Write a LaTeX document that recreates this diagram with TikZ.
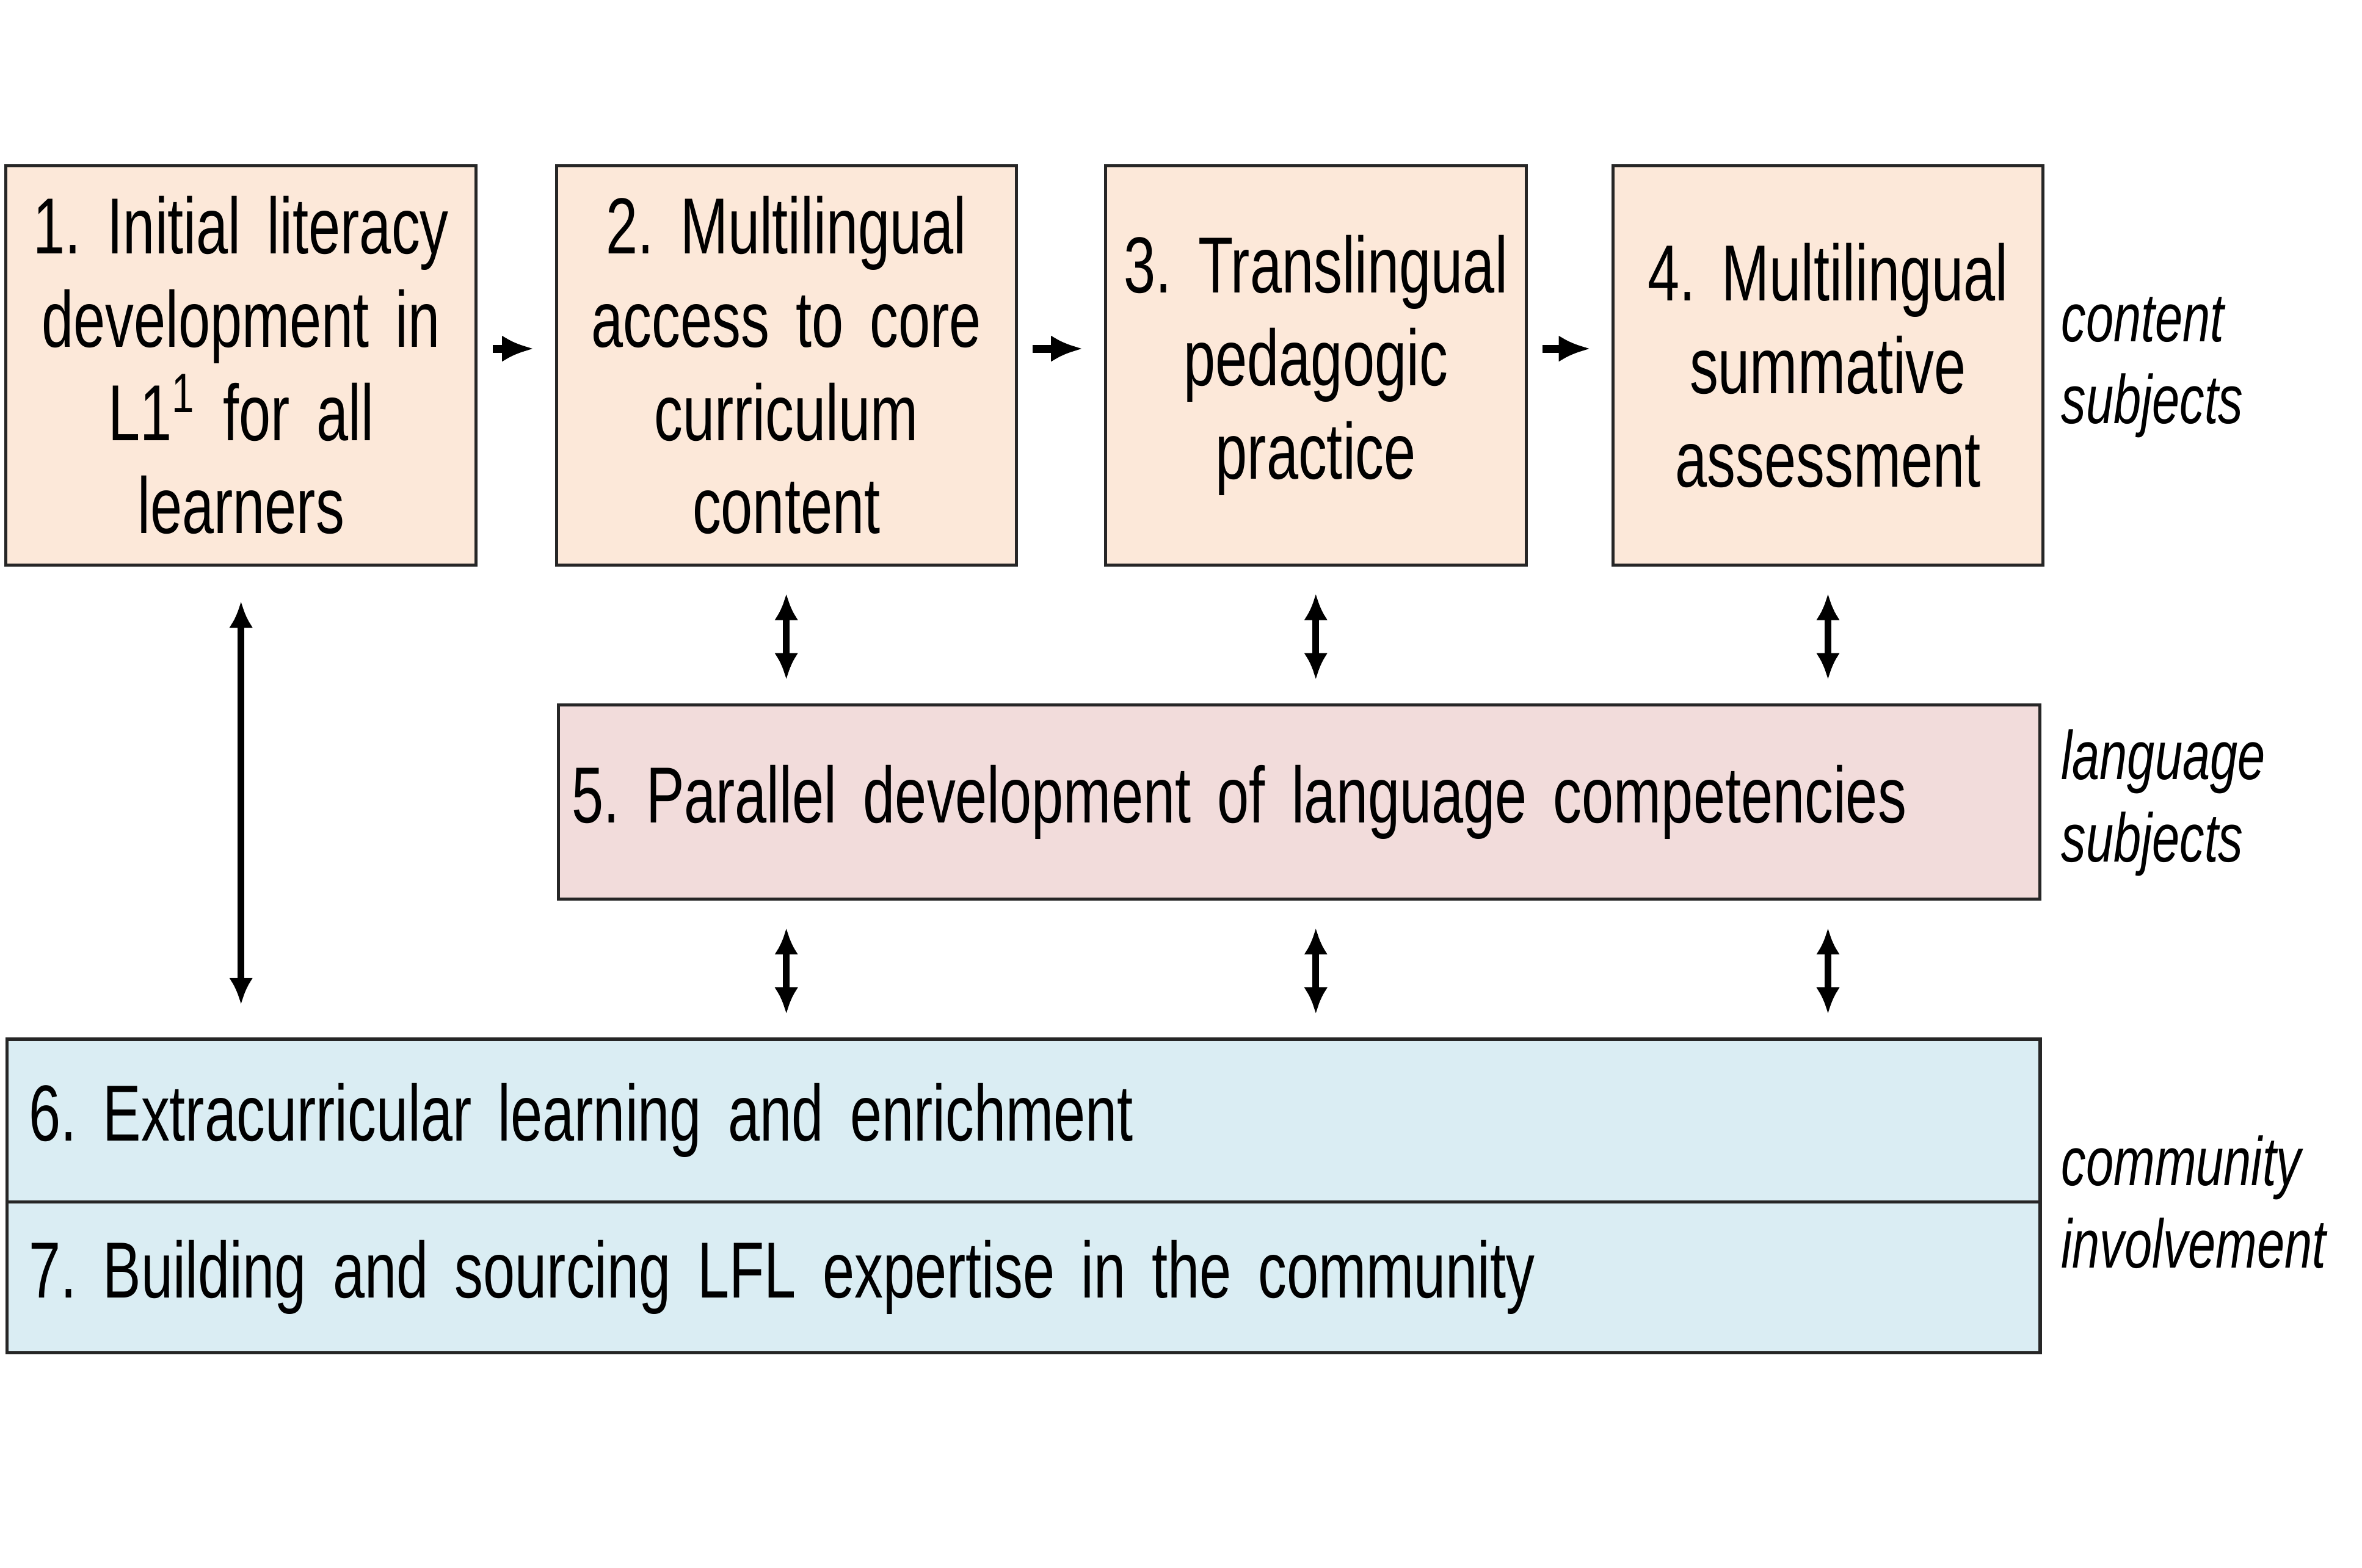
\documentclass[tikz,border=0pt]{standalone}
\usepackage{fontspec}
\setmainfont{Liberation Sans}[FakeStretch=0.72]
\usepackage{tikz}
\usetikzlibrary{positioning, arrows.meta}
\definecolor{peach}{HTML}{FCE8D9}
\definecolor{rose}{HTML}{F2DCDB}
\definecolor{sky}{HTML}{DAEDF3}
\tikzset{
  box/.style={draw=black!85, line width=0.6pt, inner sep=1pt, align=center,
    font=\fontsize{15}{17.6}\selectfont},
  side/.style={anchor=west, align=left, font=\fontsize{13}{15.5}\selectfont\itshape},
  arr/.style={-{Latex[length=6pt,width=5pt]}, line width=1.5pt},
  darr/.style={{Latex[length=5pt,width=4.5pt]}-{Latex[length=5pt,width=4.5pt]}, line width=1.3pt}
}
\begin{document}
\frenchspacing
\begin{tikzpicture}[x=0.01cm, y=0.01cm]
        \useasboundingbox (0,0) rectangle (1568,1041);
        \node[box, fill=peach, minimum width=3.1cm, minimum height=2.65cm, text width=3.05cm] (b1) at (160,798.5) {1. Initial literacy\\development in\\L1\textsuperscript{1} for all\\learners};
        \node[box, fill=peach, minimum width=3.02cm, minimum height=2.65cm, text width=2.98cm] (b2) at (522,798.5) {2. Multilingual\\access to core\\curriculum\\content};
        \node[box, fill=peach, minimum width=2.75cm, minimum height=2.65cm, text width=2.72cm] (b3) at (873.5,798.5) {3. Translingual\\pedagogic\\practice};
        \node[box, fill=peach, minimum width=2.81cm, minimum height=2.65cm, text width=2.78cm] (b4) at (1213.5,798.5) {4. Multilingual\\summative\\assessment};
        %---------------------------
        \node[box, fill=rose, minimum width=9.83cm, minimum height=1.29cm, text width=9.65cm, align=left] (b5) at (862.5,508.5) {5. Parallel development of language competencies};
        \node[box, fill=sky, minimum width=13.49cm, minimum height=1.08cm, text width=13.2cm, align=left] (b6) at (679.5,297) {6. Extracurricular learning and enrichment};
        \node[box, fill=sky, minimum width=13.49cm, minimum height=1.0cm, text width=13.2cm, align=left] (b7) at (679.5,193) {7. Building and sourcing LFL expertise in the community};
        %---------------------------
        \node[side] (s1) at (1356,797) {content\\subjects};
        \node[side] (s2) at (1356,508) {language\\subjects};
        \node[side] (s3) at (1356,243) {community\\involvement};
        %---------------------------
        \foreach \a/\b in {b1/b2, b2/b3, b3/b4}
          \draw[arr] ([xshift=0.1cm,yshift=0.11cm]\a.east) -- ([xshift=-0.14cm,yshift=0.11cm]\b.west);
        \foreach \c in {b2, b3, b4}{
          \draw[darr] ([yshift=-0.18cm]\c.south) -- ([yshift=-0.75cm]\c.south);
          \draw[darr] ([yshift=-0.18cm]\c.south |- b5.south) -- ([yshift=-0.75cm]\c.south |- b5.south);
        }
        \draw[darr] ([yshift=-0.23cm]b1.south) -- ([yshift=0.22cm]b1.south |- b6.north);
\end{tikzpicture}
\end{document}
